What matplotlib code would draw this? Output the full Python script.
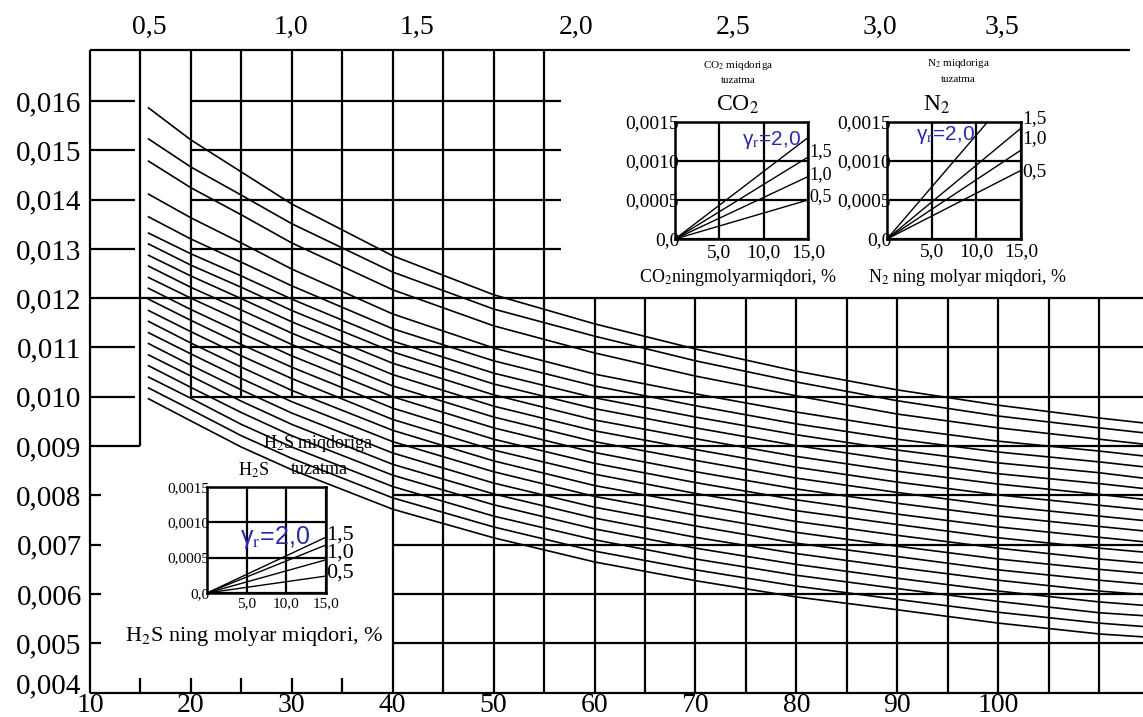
import matplotlib
matplotlib.use("Agg")
import matplotlib.pyplot as plt
from matplotlib.transforms import ScaledTranslation

plt.rcParams['font.family'] = 'Liberation Serif'
plt.rcParams['mathtext.fontset'] = 'stix'

# main nomogram: abscissa of the readings and the family of curves (top to bottom)
curve_x = [15.8, 20, 25, 30, 40, 50, 60, 70, 80, 90, 100, 110, 114.4]
curves = [
    [0.01586, 0.01521, 0.01456, 0.01391, 0.01286, 0.01207, 0.01148, 0.01097, 0.01052, 0.01014, 0.00983, 0.00957, 0.00947],
    [0.01523, 0.01466, 0.01409, 0.01351, 0.01253, 0.01178, 0.01123, 0.01073, 0.01030, 0.00992, 0.00961, 0.00937, 0.00927],
    [0.01478, 0.01424, 0.01369, 0.01312, 0.01217, 0.01144, 0.01089, 0.01042, 0.01002, 0.00965, 0.00937, 0.00914, 0.00904],
    [0.01411, 0.01363, 0.01312, 0.01259, 0.01168, 0.01099, 0.01046, 0.01006, 0.00969, 0.00937, 0.00910, 0.00890, 0.00880],
    [0.01365, 0.01320, 0.01273, 0.01225, 0.01138, 0.01073, 0.01022, 0.00982, 0.00945, 0.00914, 0.00888, 0.00868, 0.00858],
    [0.01332, 0.01290, 0.01245, 0.01198, 0.01113, 0.01048, 0.00998, 0.00959, 0.00923, 0.00892, 0.00866, 0.00846, 0.00835],
    [0.01310, 0.01267, 0.01222, 0.01175, 0.01091, 0.01026, 0.00976, 0.00937, 0.00901, 0.00871, 0.00844, 0.00824, 0.00814],
    [0.01287, 0.01245, 0.01199, 0.01152, 0.01068, 0.01004, 0.00953, 0.00915, 0.00879, 0.00849, 0.00823, 0.00802, 0.00792],
    [0.01265, 0.01222, 0.01176, 0.01129, 0.01045, 0.00981, 0.00931, 0.00893, 0.00857, 0.00827, 0.00801, 0.00780, 0.00771],
    [0.01242, 0.01200, 0.01153, 0.01106, 0.01022, 0.00959, 0.00909, 0.00871, 0.00835, 0.00806, 0.00779, 0.00758, 0.00749],
    [0.01220, 0.01177, 0.01129, 0.01083, 0.01000, 0.00937, 0.00887, 0.00848, 0.00813, 0.00784, 0.00758, 0.00737, 0.00728],
    [0.01198, 0.01155, 0.01106, 0.01060, 0.00977, 0.00914, 0.00865, 0.00826, 0.00791, 0.00762, 0.00736, 0.00715, 0.00706],
    [0.01175, 0.01132, 0.01083, 0.01037, 0.00954, 0.00892, 0.00843, 0.00804, 0.00769, 0.00741, 0.00714, 0.00693, 0.00685],
    [0.01153, 0.01109, 0.01060, 0.01013, 0.00932, 0.00870, 0.00820, 0.00782, 0.00747, 0.00719, 0.00693, 0.00671, 0.00663],
    [0.01130, 0.01087, 0.01037, 0.00990, 0.00909, 0.00848, 0.00798, 0.00760, 0.00725, 0.00697, 0.00671, 0.00650, 0.00642],
    [0.01108, 0.01064, 0.01014, 0.00967, 0.00886, 0.00825, 0.00776, 0.00738, 0.00703, 0.00676, 0.00649, 0.00628, 0.00620],
    [0.01085, 0.01042, 0.00991, 0.00944, 0.00863, 0.00803, 0.00754, 0.00715, 0.00682, 0.00654, 0.00628, 0.00606, 0.00599],
    [0.01063, 0.01019, 0.00968, 0.00921, 0.00841, 0.00781, 0.00732, 0.00693, 0.00660, 0.00632, 0.00606, 0.00584, 0.00577],
    [0.01040, 0.00997, 0.00944, 0.00898, 0.00818, 0.00758, 0.00710, 0.00671, 0.00638, 0.00611, 0.00585, 0.00562, 0.00556],
    [0.01018, 0.00974, 0.00921, 0.00875, 0.00795, 0.00736, 0.00687, 0.00649, 0.00616, 0.00589, 0.00563, 0.00541, 0.00534],
    [0.00996, 0.00951, 0.00898, 0.00852, 0.00772, 0.00714, 0.00665, 0.00627, 0.00594, 0.00568, 0.00541, 0.00519, 0.00513],
]

bottom_ticks = [10, 20, 30, 40, 50, 60, 70, 80, 90, 100]
left_ticks = [0.004, 0.005, 0.006, 0.007, 0.008, 0.009, 0.010,
              0.011, 0.012, 0.013, 0.014, 0.015, 0.016]
left_labels = ['0,004', '0,005', '0,006', '0,007', '0,008', '0,009', '0,010',
               '0,011', '0,012', '0,013', '0,014', '0,015', '0,016']
top_pos = [15.85, 29.9, 42.4, 58.2, 73.7, 88.3, 100.4]
top_labels = ['0,5', '1,0', '1,5', '2,0', '2,5', '3,0', '3,5']

# small correction charts (lines from the origin to the value at 15 %)
inset_x = [0, 15]
co2_end = [0.00050, 0.00080, 0.00105, 0.00130]
n2_end = [0.00088, 0.00114, 0.00142, 0.00200]
h2s_end = [0.00024, 0.00047, 0.00068, 0.00079]

W, H = 1143, 717
fig = plt.figure(figsize=(W / 100, H / 100), dpi=100)


def px_rect(l, t, r, b):
    return [l / W, 1 - b / H, (r - l) / W, (b - t) / H]


ytop = 0.017034
xr = 114.36
ax = fig.add_axes(px_rect(90, 50, 1143, 692.6))
ax.set_xlim(10, xr)
ax.set_ylim(0.004, ytop)
for s in ax.spines.values():
    s.set_visible(False)
ax.patch.set_alpha(0)

lw = 1.6
k = 'black'
# frame and grid pieces
ax.vlines(10, 0.004, ytop, color=k, lw=lw, clip_on=False)
ax.vlines(15, 0.009, ytop, color=k, lw=lw)
ax.vlines([20, 25, 30, 35], 0.010, ytop, color=k, lw=lw)
ax.vlines([40, 45, 50, 55], 0.004, ytop, color=k, lw=lw)
ax.vlines(list(range(60, 115, 5)), 0.004, 0.012, color=k, lw=lw)
ax.vlines([15, 20, 25, 30, 35], 0.004, 0.0043, color=k, lw=lw)
ax.hlines(ytop, 10, 113.1, color=k, lw=lw, clip_on=False)
ax.hlines(0.004, 10, xr, color=k, lw=lw, clip_on=False)
ax.hlines([0.016, 0.015, 0.014, 0.013], 20, 56.7, color=k, lw=lw)
ax.hlines([0.016, 0.015, 0.014, 0.013, 0.011, 0.010], 10, 14.5, color=k, lw=lw)
ax.hlines(0.012, 10, xr, color=k, lw=lw)
ax.hlines([0.011, 0.010], 20, xr, color=k, lw=lw)
ax.hlines(0.009, 10, 15, color=k, lw=lw)
ax.hlines([0.009, 0.008, 0.007, 0.006, 0.005], 40, xr, color=k, lw=lw)
ax.hlines([0.008, 0.007, 0.006, 0.005], 10, 11.1, color=k, lw=lw)

for cy in curves:
    ax.plot(curve_x, cy, color=k, lw=1.2)

ax.set_xticks(bottom_ticks, [str(v) for v in bottom_ticks])
ax.set_yticks(left_ticks, left_labels)
ax.tick_params(axis='x', length=0, labelsize=20, pad=0)
ax.tick_params(axis='y', length=0, labelsize=21, pad=6)
# the lowest ordinate label sits a little higher in the original
low = ax.get_yticklabels()[0]
low.set_transform(low.get_transform() + ScaledTranslation(0, 9 / 100, fig.dpi_scale_trans))

sec = ax.secondary_xaxis('top')
sec.set_xticks(top_pos, top_labels)
sec.tick_params(length=0, labelsize=20, pad=7)
sec.spines['top'].set_visible(False)

blue = '#2b2ba8'


def small_chart(rect, ends, tick_fs, pad_y, pad_x):
    ia = fig.add_axes(rect)
    ia.set_xlim(0, 15)
    ia.set_ylim(0, 0.0015)
    ia.patch.set_alpha(0)
    for e in ends:
        ia.plot(inset_x, [0, e], color=k, lw=1.0)
    ia.set_xticks([5, 10, 15], ['5,0', '10,0', '15,0'])
    ia.set_yticks([0, 0.0005, 0.0010, 0.0015], ['0,0', '0,0005', '0,0010', '0,0015'])
    ia.grid(True, color=k, lw=1.6)
    ia.tick_params(length=0, labelsize=tick_fs)
    ia.tick_params(axis='y', pad=pad_y)
    ia.tick_params(axis='x', pad=pad_x)
    for s in ia.spines.values():
        s.set_linewidth(1.8)
    return ia


# CO2 inset
co2 = small_chart(px_rect(675, 122, 808, 239), co2_end, 14, -3, 4)
co2.text(10.9, 0.00127, 'γ$_\\mathrm{r}$=2,0', color=blue, fontsize=15,
         family='Liberation Sans', ha='center', va='center')
for lab, yy in zip(['1,5', '1,0', '0,5'], [0.00112, 0.00082, 0.00055]):
    co2.text(16.4, yy, lab, fontsize=13, ha='center', va='center', clip_on=False)
co2.text(7.1, 0.00172, 'CO$_2$', fontsize=17, ha='center', va='center')
co2.text(7.1, 0.00222, 'CO$_2$ miqdoriga', fontsize=8, ha='center', va='center')
co2.text(7.1, 0.00203, 'tuzatma', fontsize=8, ha='center', va='center')
co2.text(7.1, -0.00050, 'CO$_2$ningmolyarmiqdori, %', fontsize=13, ha='center', va='center')

# N2 inset
n2 = small_chart(px_rect(887, 122, 1021, 239), n2_end, 14, -3, 3)
n2.text(6.6, 0.00133, 'γ$_\\mathrm{r}$=2,0', color=blue, fontsize=15,
        family='Liberation Sans', ha='center', va='center')
for lab, yy in zip(['1,5', '1,0', '0,5'], [0.00155, 0.00129, 0.00086]):
    n2.text(16.5, yy, lab, fontsize=14, ha='center', va='center', clip_on=False)
n2.text(5.6, 0.00172, 'N$_2$', fontsize=17, ha='center', va='center')
n2.text(8.0, 0.00225, 'N$_2$ miqdoriga', fontsize=8, ha='center', va='center')
n2.text(8.0, 0.00204, 'tuzatma', fontsize=8, ha='center', va='center')
n2.text(9.0, -0.00050, 'N$_2$ ning molyar miqdori, %', fontsize=13, ha='center', va='center')

# H2S inset
h2s = small_chart(px_rect(207, 487, 326, 593), h2s_end, 11, -2, 3)
h2s.text(8.6, 0.00078, 'γ$_\\mathrm{r}$=2,0', color=blue, fontsize=18,
         family='Liberation Sans', ha='center', va='center')
for lab, yy in zip(['1,5', '1,0', '0,5'], [0.00082, 0.00057, 0.00028]):
    h2s.text(16.8, yy, lab, fontsize=16, ha='center', va='center', clip_on=False)
h2s.text(5.9, 0.00173, 'H$_2$S', fontsize=13, ha='center', va='center')
h2s.text(14.0, 0.00212, 'H$_2$S miqdoriga', fontsize=13, ha='center', va='center')
h2s.text(14.2, 0.00175, 'tuzatma', fontsize=13, ha='center', va='center')
h2s.text(5.9, -0.00062, 'H$_2$S ning molyar miqdori, %', fontsize=16, ha='center', va='center')

fig.savefig('out.png', dpi=100)
